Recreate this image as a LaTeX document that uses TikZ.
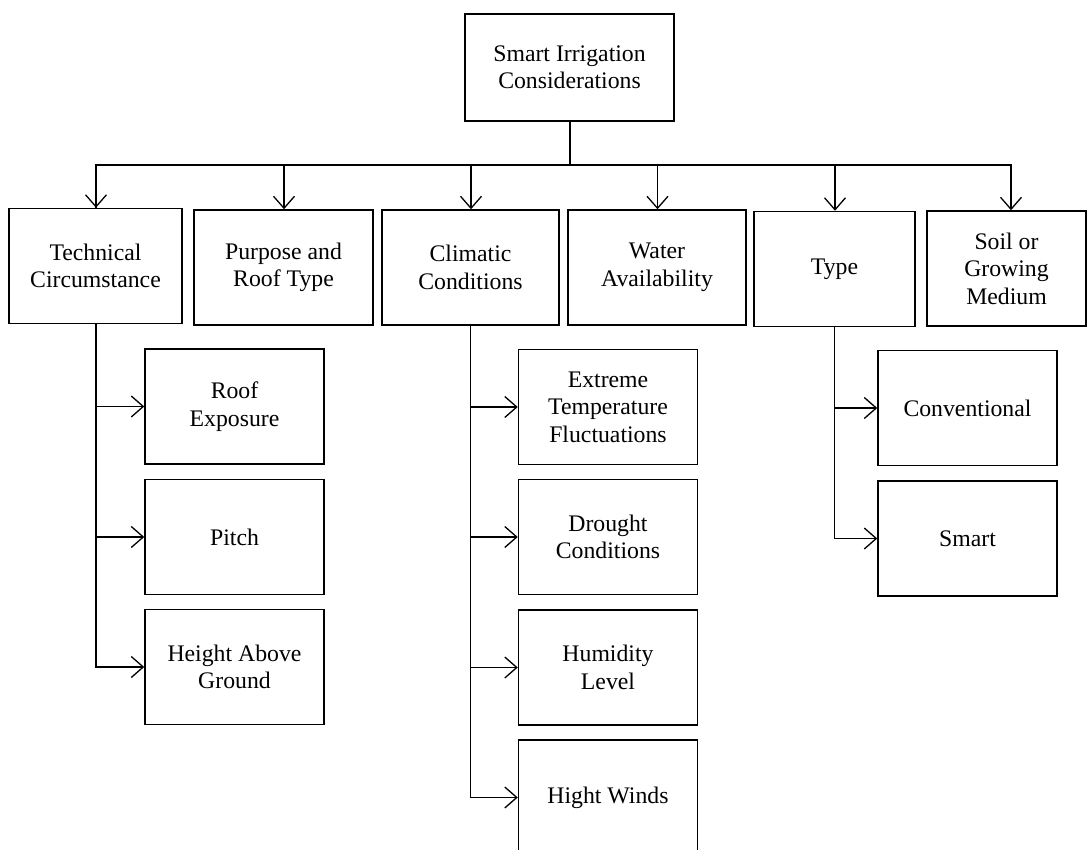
\documentclass[tikz,border=0pt]{standalone}
\usepackage{fontspec}
\setmainfont{Liberation Serif}
\usetikzlibrary{arrows.meta}

\begin{document}
\begin{tikzpicture}[x=1pt,y=-1pt,
  box/.style={draw, line width=1.5pt, align=center, inner sep=0pt,
    font=\fontsize{23.75}{27.5}\selectfont},
  topbox/.style={box, minimum width=#1, minimum height=115pt},
  subbox/.style={box, minimum width=179pt, minimum height=115pt},
  link/.style={line width=1.3pt, -{Straight Barb[length=12pt,width=21pt]}},
  trunk/.style={line width=2pt}]
\useasboundingbox (0,0) rectangle (1088,850);
\clip (0,0) rectangle (1088,850);

% root
\node[box, minimum width=209pt, minimum height=107pt] (root) at (569.5,67.5)
  {Smart Irrigation\\Considerations};

% first level
\node[topbox=173pt] (tech)    at (95.5,266)  {Technical\\Circumstance};
\node[topbox=179pt] (purpose) at (283.5,267.5) {Purpose and\\Roof Type};
\node[topbox=177pt] (climate) at (470.5,267.5) {Climatic\\Conditions};
\node[topbox=178pt] (water)   at (657,267.5) {Water\\Availability};
\node[topbox=161pt] (type)    at (834.5,269) {Type};
\node[topbox=159pt] (soil)    at (1006.5,268.5) {Soil or\\Growing\\Medium};

% technical circumstance branch
\node[subbox] (roof)   at (234.5,406.5) {Roof\\Exposure};
\node[subbox] (pitch)  at (234.5,537)   {Pitch};
\node[subbox] (height) at (234.5,667)   {Height Above\\Ground};

% climatic conditions branch
\node[subbox] (extreme)  at (608,407)   {Extreme\\Temperature\\Fluctuations};
\node[subbox] (drought)  at (608,537)   {Drought\\Conditions};
\node[subbox] (humidity) at (608,667.5) {Humidity\\Level};
\node[subbox] (winds)    at (608,797.5) {Hight Winds};

% type branch
\node[subbox] (conv)  at (967.5,408)   {Conventional};
\node[subbox] (smart) at (967.5,538.5) {Smart};

% bus from the root
\coordinate (bus) at (570,165);
\draw[trunk] (root.south) -- (root.south |- bus);
\draw[trunk] (root.south |- bus) -| ([xshift=0.5pt]tech.north);
\foreach \n in {tech,purpose,climate,water,type}
  \draw[link] (root.south |- bus) -| ([xshift=0.5pt]\n.north);
\draw[link] (root.south |- bus) -| ([xshift=4.5pt]soil.north);

% branches to the second level
\foreach \n in {roof,pitch,height}
  \draw[link] ([xshift=0.5pt]tech.south) |- (\n.west);
\foreach \n in {extreme,drought,humidity,winds}
  \draw[link] ([xshift=0.2pt]climate.south) |- (\n.west);
\foreach \n in {conv,smart}
  \draw[link] (type.south) |- (\n.west);
\end{tikzpicture}
\end{document}
